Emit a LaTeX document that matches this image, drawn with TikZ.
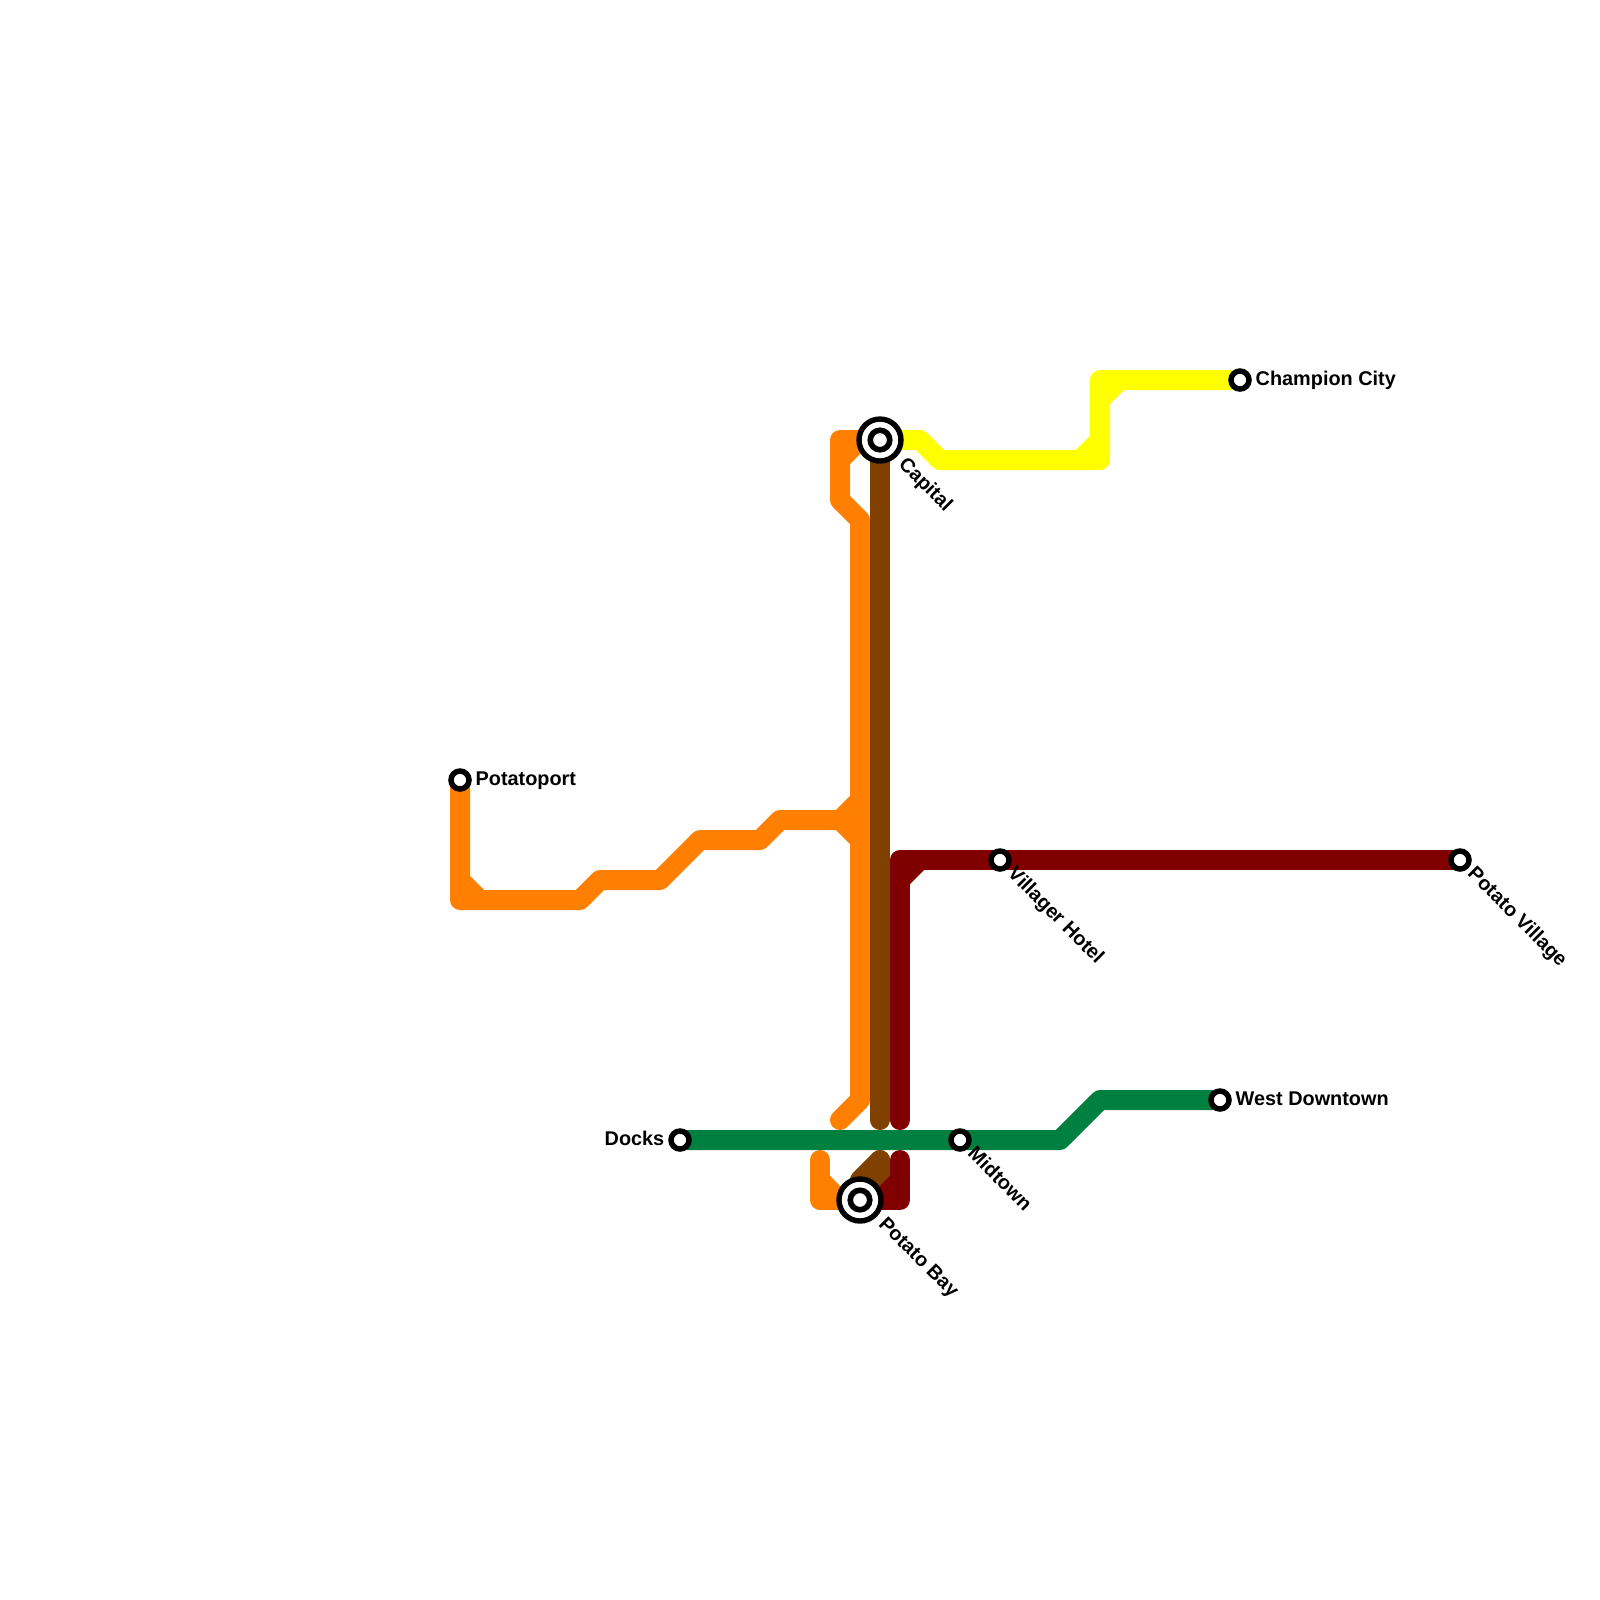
\documentclass[tikz,border=0pt]{standalone}
\usepackage{fontspec}
\setsansfont{Liberation Sans}
\usetikzlibrary{calc, positioning}
\definecolor{colOrange}{HTML}{FF8000}
\definecolor{colBrown}{HTML}{804000}
\definecolor{colMaroon}{HTML}{800000}
\definecolor{colGreen}{HTML}{008040}
\definecolor{colYellow}{HTML}{FFFF00}
\tikzset{
  metroLine/.style={line width=0.2cm, line join=round, line cap=round},
  stop/.style={circle, draw=black, fill=white, line width=0.055cm, inner sep=0pt, outer sep=0pt, minimum size=0.18cm},
  hubOuter/.style={circle, draw=black, fill=white, line width=0.054cm, inner sep=0pt, outer sep=0pt, minimum size=0.42cm},
  hubInner/.style={circle, draw=black, fill=white, line width=0.056cm, inner sep=0pt, outer sep=0pt, minimum size=0.195cm},
  stopLabel/.style={inner sep=0pt, font=\sffamily\bfseries\fontsize{5.65pt}{6.8pt}\selectfont},
  slantLabel/.style={stopLabel, rotate=-45, anchor=base west}
}
\begin{document}
\begin{tikzpicture}[x=0.2cm, y=-0.2cm]
  \useasboundingbox (0,0) rectangle (80,80);

  % Station positions
  \coordinate (posPotatoport) at (23,39);
  \coordinate (posCapital) at (44,22);
  \coordinate (posChampion) at (62,19);
  \coordinate (posVillager) at (50,43);
  \coordinate (posVillage) at (73,43);
  \coordinate (posDocks) at (34,57);
  \coordinate (posMidtown) at (48,57);
  \coordinate (posDowntown) at (61,55);
  \coordinate (posBay) at (43,60);

  % Orange line
  \draw[metroLine, colOrange] (posPotatoport) -- (23,45) -- (29,45) -- (30,44) -- (33,44) -- (35,42) -- (38,42) -- (39,41) -- (42,41) -- (43,40);
  \draw[metroLine, colOrange] (23,44) -- (24,45);
  \draw[metroLine, colOrange] (42,41) -- (43,42);
  \draw[metroLine, colOrange] (posCapital) -- (42,22) -- (42,25) -- (43,26) -- (43,55) -- (42,56);
  \draw[metroLine, colOrange] (42,23) -- (43,22);
  \draw[metroLine, colOrange] (41,58) -- (41,60) -- (posBay);
  \draw[metroLine, colOrange] (41,59) -- (42,60);

  % Yellow line
  \draw[metroLine, colYellow] (posCapital) -- (46,22) -- (47,23) -- (55,23) -- (55,19) -- (posChampion);
  \draw[metroLine, colYellow] (54,23) -- (55,22);
  \draw[metroLine, colYellow] (55,20) -- (56,19);

  % Brown line
  \draw[metroLine, colBrown] (posCapital) -- (44,56);
  \draw[metroLine, colBrown] (44,58) -- (44,59) -- (posBay);
  \draw[metroLine, colBrown] (44,58) -- (43,59);

  % Maroon line
  \draw[metroLine, colMaroon] (posVillage) -- (45,43) -- (45,56);
  \draw[metroLine, colMaroon] (45,44) -- (46,43);
  \draw[metroLine, colMaroon] (45,58) -- (45,60) -- (posBay);
  \draw[metroLine, colMaroon] (45,59) -- (44,60);

  % Green line
  \draw[metroLine, colGreen] (posDocks) -- (53,57) -- (55,55) -- (posDowntown);

  % Stations
  \node[stop] (potatoport) at (posPotatoport) {};
  \node[stop] (champion) at (posChampion) {};
  \node[stop] (villager) at (posVillager) {};
  \node[stop] (village) at (posVillage) {};
  \node[stop] (docks) at (posDocks) {};
  \node[stop] (midtown) at (posMidtown) {};
  \node[stop] (downtown) at (posDowntown) {};
  \node[hubOuter] (capital) at (posCapital) {};
  \node[hubInner] (capitalCore) at (posCapital) {};
  \node[hubOuter] (bay) at (posBay) {};
  \node[hubInner] (bayCore) at (posBay) {};

  % Labels
  \node[stopLabel, anchor=base west] (lblPotatoport) at ($(potatoport.center)+(0.75,0.25)$) {Potatoport};
  \node[stopLabel, anchor=base west] (lblChampion) at ($(champion.center)+(0.75,0.25)$) {Champion City};
  \node[stopLabel, anchor=base west] (lblDowntown) at ($(downtown.center)+(0.75,0.25)$) {West Downtown};
  \node[stopLabel, anchor=base east] (lblDocks) at ($(docks.center)+(-0.75,0.25)$) {Docks};
  \node[slantLabel] (lblCapital) at ($(capital.center)+(0.87,1.23)$) {Capital};
  \node[slantLabel] (lblBay) at ($(bay.center)+(0.87,1.23)$) {Potato Bay};
  \node[slantLabel] (lblVillager) at ($(villager.center)+(0.32,0.72)$) {Villager Hotel};
  \node[slantLabel] (lblVillage) at ($(village.center)+(0.32,0.72)$) {Potato Village};
  \node[slantLabel] (lblMidtown) at ($(midtown.center)+(0.32,0.72)$) {Midtown};
\end{tikzpicture}
\end{document}
